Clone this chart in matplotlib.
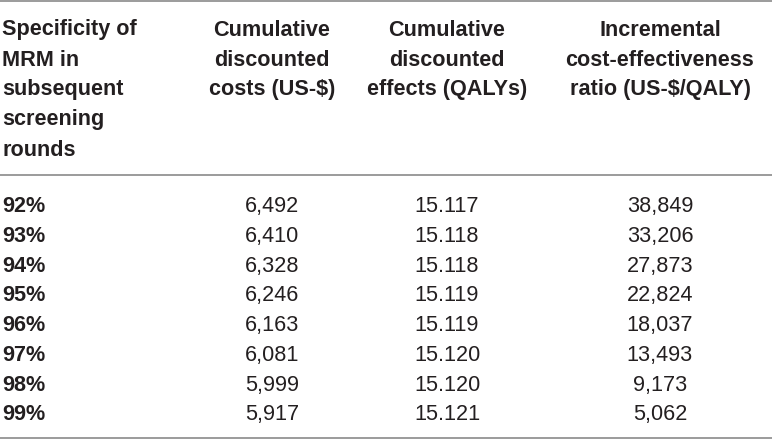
import matplotlib.pyplot as plt

specificity = ['92%', '93%', '94%', '95%', '96%', '97%', '98%', '99%']
costs = [6492, 6410, 6328, 6246, 6163, 6081, 5999, 5917]
effects = [15.117, 15.118, 15.118, 15.119, 15.119, 15.120, 15.120, 15.121]
icer = [38849, 33206, 27873, 22824, 18037, 13493, 9173, 5062]

headers = [
    ['Specificity of', 'MRM in', 'subsequent', 'screening', 'rounds'],
    ['Cumulative', 'discounted', 'costs (US-$)'],
    ['Cumulative', 'discounted', 'effects (QALYs)'],
    ['Incremental', 'cost-effectiveness', 'ratio (US-$/QALY)'],
]

W, H = 772, 440
fig = plt.figure(figsize=(W / 100, H / 100), dpi=100)
ax = fig.add_axes([0, 0, 1, 1])
ax.set_xlim(0, W)
ax.set_ylim(H, 0)
ax.axis('off')

font = 'Liberation Sans'
fs = 15.6
txt = '#231f20'
col_x = [2, 272, 447, 660]

# header
for ci, lines in enumerate(headers):
    for li, line in enumerate(lines):
        ax.text(col_x[ci], 35.5 + li * 30, line, fontsize=fs, family=font,
                fontweight='bold', color=txt, va='baseline',
                ha='left' if ci == 0 else 'center')

# body rows
for i in range(len(specificity)):
    y = 212 + i * 29.77
    ax.text(col_x[0], y, specificity[i], fontsize=fs, family=font,
            fontweight='bold', color=txt, va='baseline', ha='left')
    ax.text(col_x[1], y, f'{costs[i]:,}', fontsize=fs, family=font,
            color=txt, va='baseline', ha='center')
    ax.text(col_x[2], y, f'{effects[i]:.3f}', fontsize=fs, family=font,
            color=txt, va='baseline', ha='center')
    ax.text(col_x[3], y, f'{icer[i]:,}', fontsize=fs, family=font,
            color=txt, va='baseline', ha='center')

# rules
for yl in [0.8, 175, 438.5]:
    ax.plot([0, W], [yl, yl], color='#8a8a8a', linewidth=1.2,
            solid_capstyle='butt')

fig.savefig('out.png', dpi=100)
